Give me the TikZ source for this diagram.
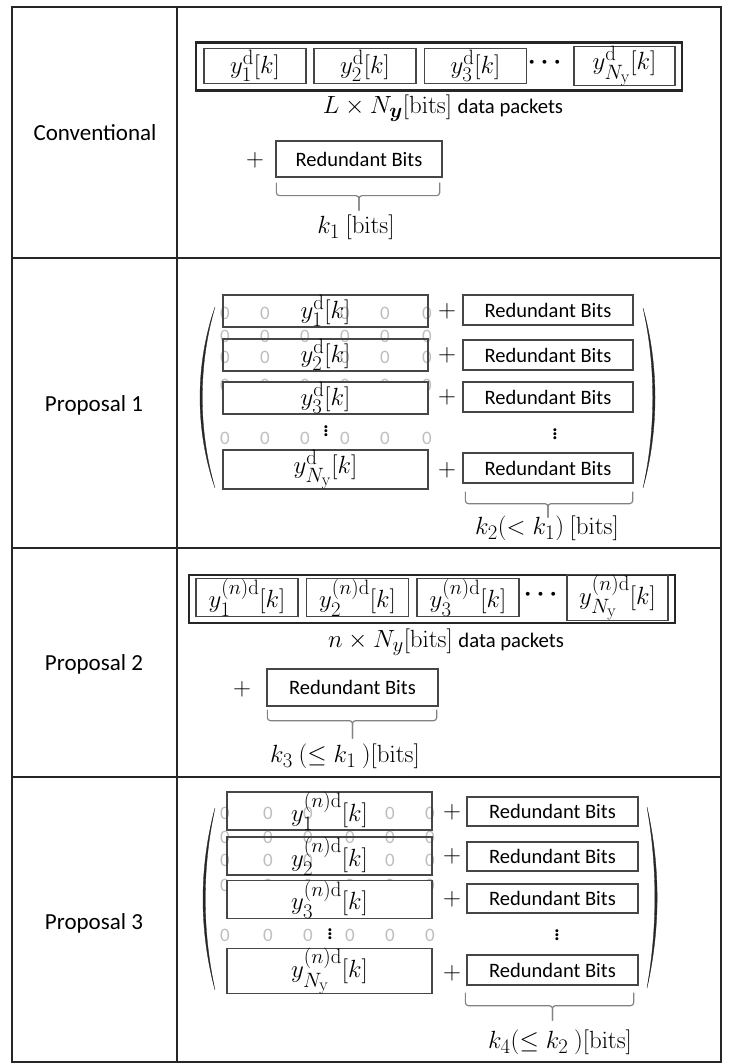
\documentclass[tikz,border=0pt]{standalone}
\usepackage{amsmath, amssymb}
\usepackage[no-math]{fontspec}
\setmainfont{Carlito}
\usepackage{xcolor}
\usepackage{tikz}

\definecolor{boxgray}{RGB}{70,70,70}
\definecolor{bracegray}{RGB}{130,130,130}
\definecolor{zerogray}{RGB}{190,190,190}

\newcommand{\txt}{\fontsize{20.7}{24}\selectfont}

\tikzset{
  tabline/.style={line width=1.2pt, black!85},
  pktframe/.style={draw=black!85, line width=2.6pt, inner sep=0pt, minimum width=486pt, minimum height=48pt},
  pkt/.style={draw=boxgray, line width=1.3pt, inner sep=0pt, minimum width=102pt, minimum height=35pt},
  rowbox/.style={draw=boxgray, line width=1.3pt, inner sep=0pt, minimum width=205pt, minimum height=#1},
  rowbox/.default=27pt,
  redbits/.style={draw=boxgray, line width=1.3pt, inner sep=0pt, minimum width=170pt, minimum height=30pt, font=\fontsize{20.5}{24}\selectfont},
  plus/.style={inner sep=0pt},
  zero/.style={text=zerogray, inner sep=0pt, font=\fontsize{19}{20}\selectfont},
  brc/.style={draw=bracegray, line width=1.2pt, rounded corners=3pt},
  rowlabel/.style={font=\fontsize{23}{28}\selectfont},
  paren/.style={fill=black!85, draw=black!85, line width=0.3pt}
}

\begin{document}
\begin{tikzpicture}[x=1pt, y=-1pt, font=\fontsize{24.88}{28}\selectfont]
  \useasboundingbox (0,0) rectangle (733,1064);

  % table
  \coordinate (tl) at (12,7);
  \coordinate (br) at (721,1062);
  \draw[tabline] (tl) rectangle (br);
  \draw[tabline] (177,7) -- (177,1062);
  \foreach \ry in {258,548,777}
    \draw[tabline] (12,\ry) -- (721,\ry);

  \node[rowlabel] (conv) at (95,133) {Conventional};
  \node[rowlabel] (prop1) at (94,405) {Proposal 1};
  \node[rowlabel] (prop2) at (94,664) {Proposal 2};
  \node[rowlabel] (prop3) at (94,923) {Proposal 3};

  % conventional
  \node[pktframe] (cframe) at (439,66.5) {};
  \node[pkt] (c1) at (255,66) {$y_1^{\mathrm{d}}[k]$};
  \node[pkt] (c2) at (365,66) {$y_2^{\mathrm{d}}[k]$};
  \node[pkt] (c3) at (475.5,66) {$y_3^{\mathrm{d}}[k]$};
  \node (cdots) at (547,63) {$\boldsymbol{\cdots}$};
  \node[pkt, minimum width=101pt] (cN) at (624.5,66) {$y_{N_{\mathrm{y}}}^{\mathrm{d}}[k]$};
  \node (ccap) at (443,108) {$L\times N_{\boldsymbol{y}}[\mathrm{bits}]$ {\txt data packets}};
  \node[plus] (cplus) at (255,160) {$+$};
  \node[redbits, minimum width=166pt, minimum height=36pt] (crb) at (359,159) {Redundant Bits};
  \draw[brc] ([shift={(1,5)}]crb.south west) |- ([shift={(0,18)}]crb.south) -- ++(0,15);
  \draw[brc] ([shift={(-3,5)}]crb.south east) |- ([shift={(0,18)}]crb.south) -- ++(0,15);
  \node (ck) at (356,227) {$k_1\ [\mathrm{bits}]$};

  % proposal 1
  \foreach \zy/\zl in {313/{225,265,345,385,427}, 336/{225,265,305,345,385,427}, 357/{225,265,345,385,427}, 385/{225,265,305,345,385,427}, 438/{225,265,305,345,385,427}}
    \foreach \zx in \zl
      \node[zero] (za-\zx-\zy) at (\zx,\zy) {0};

  \node[rowbox] (p1a) at (325.5,311) {$y_1^{\mathrm{d}}[k]$};
  \node[rowbox] (p1b) at (325.5,355) {$y_2^{\mathrm{d}}[k]$};
  \node[rowbox=28pt, fill=white] (p1c) at (325.5,398) {$y_3^{\mathrm{d}}[k]$};
  \node (p1dots) at (326,428) {$\vdots$};
  \node[rowbox=35pt, fill=white] (p1n) at (325.5,469.5) {$y_{N_{\mathrm{y}}}^{\mathrm{d}}[k]$};

  \node[plus] (p1pa) at (447,311) {$+$};
  \node[plus] (p1pb) at (447,355) {$+$};
  \node[plus] (p1pc) at (447,397) {$+$};
  \node[plus] (p1pn) at (447,470) {$+$};
  \node[redbits] (p1ra) at (548,310) {Redundant Bits};
  \node[redbits] (p1rb) at (548,355) {Redundant Bits};
  \node[redbits] (p1rc) at (548,397) {Redundant Bits};
  \node (p1rdots) at (555,431) {$\vdots$};
  \node[redbits] (p1rn) at (548,468) {Redundant Bits};
  \draw[brc] ([shift={(3,8)}]p1rn.south west) |- ([shift={(0,20)}]p1rn.south) -- ++(0,14);
  \draw[brc] ([shift={(-1,8)}]p1rn.south east) |- ([shift={(0,20)}]p1rn.south) -- ++(0,14);
  \node (p1k) at (547,528) {$k_2(<k_1)\ [\mathrm{bits}]$};

  \fill[paren] (215,307) .. controls (195,365) and (195,430) .. (215,488) .. controls (198,430) and (198,365) .. (215,307);
  \fill[paren] (643,308) .. controls (659,365) and (659,430) .. (643,488) .. controls (656,430) and (656,365) .. (643,308);

  % proposal 2
  \node[pktframe] (p2frame) at (432,599) {};
  \node[pkt] (p2a) at (247,597.5) {$y_1^{(n)\mathrm{d}}[k]$};
  \node[pkt] (p2b) at (357.5,597.5) {$y_2^{(n)\mathrm{d}}[k]$};
  \node[pkt] (p2c) at (468,597.5) {$y_3^{(n)\mathrm{d}}[k]$};
  \node (p2dots) at (543,595) {$\boldsymbol{\cdots}$};
  \node[pkt, minimum width=101pt] (p2n) at (617.5,597.5) {$y_{N_{\mathrm{y}}}^{(n)\mathrm{d}}[k]$};
  \node (p2cap) at (446,642) {$n\times N_y[\mathrm{bits}]$ {\txt data packets}};
  \node[plus] (p2plus) at (242,689) {$+$};
  \node[redbits, minimum width=171pt, minimum height=37pt] (p2rb) at (352.5,687.5) {Redundant Bits};
  \draw[brc] ([shift={(1,3)}]p2rb.south west) |- ([shift={(0,14)}]p2rb.south) -- ++(0,18);
  \draw[brc] ([shift={(-2,3)}]p2rb.south east) |- ([shift={(0,14)}]p2rb.south) -- ++(0,18);
  \node (p2k) at (345,756) {$k_3\ (\le k_1\ )[\mathrm{bits}]$};

  % proposal 3
  \foreach \zy/\zl in {813/{225,268,308,390,430}, 837/{225,268,308,350,390,430}, 860/{225,268,308,390,430}, 885/{225,268,308,350,390,430}, 935/{225,268,308,350,390,430}}
    \foreach \zx in \zl
      \node[zero] (zb-\zx-\zy) at (\zx,\zy) {0};

  \node[rowbox=36pt] (p3a) at (329.5,811) {$y_1^{(n)\mathrm{d}}[k]$};
  \node[rowbox=36pt] (p3b) at (329.5,856) {$y_2^{(n)\mathrm{d}}[k]$};
  \node[rowbox=35pt, fill=white] (p3c) at (329.5,899.5) {$y_3^{(n)\mathrm{d}}[k]$};
  \node (p3dots) at (330,931) {$\vdots$};
  \node[rowbox=40pt, fill=white] (p3n) at (329.5,971) {$y_{N_{\mathrm{y}}}^{(n)\mathrm{d}}[k]$};

  \node[plus] (p3pa) at (452,812) {$+$};
  \node[plus] (p3pb) at (452,856) {$+$};
  \node[plus] (p3pc) at (452,899) {$+$};
  \node[plus] (p3pn) at (452,973) {$+$};
  \node[redbits, minimum width=171pt, minimum height=29pt] (p3ra) at (552.5,811.5) {Redundant Bits};
  \node[redbits, minimum width=171pt, minimum height=29pt] (p3rb) at (552.5,856.5) {Redundant Bits};
  \node[redbits, minimum width=171pt, minimum height=29pt] (p3rc) at (552.5,898.5) {Redundant Bits};
  \node (p3rdots) at (557,932) {$\vdots$};
  \node[redbits, minimum width=171pt, minimum height=30pt] (p3rn) at (552.5,970) {Redundant Bits};
  \draw[brc] ([shift={(-1,7)}]p3rn.south west) |- ([shift={(0,20)}]p3rn.south) -- ++(0,15);
  \draw[brc] ([shift={(-5,7)}]p3rn.south east) |- ([shift={(0,20)}]p3rn.south) -- ++(0,15);
  \node (p3k) at (560,1042) {$k_4(\le k_2\ )[\mathrm{bits}]$};

  \fill[paren] (215,808) .. controls (199,868) and (199,930) .. (215,990) .. controls (202,930) and (202,868) .. (215,808);
  \fill[paren] (647,807) .. controls (660.5,867) and (660.5,928) .. (647,988) .. controls (657.5,928) and (657.5,867) .. (647,807);
\end{tikzpicture}
\end{document}
